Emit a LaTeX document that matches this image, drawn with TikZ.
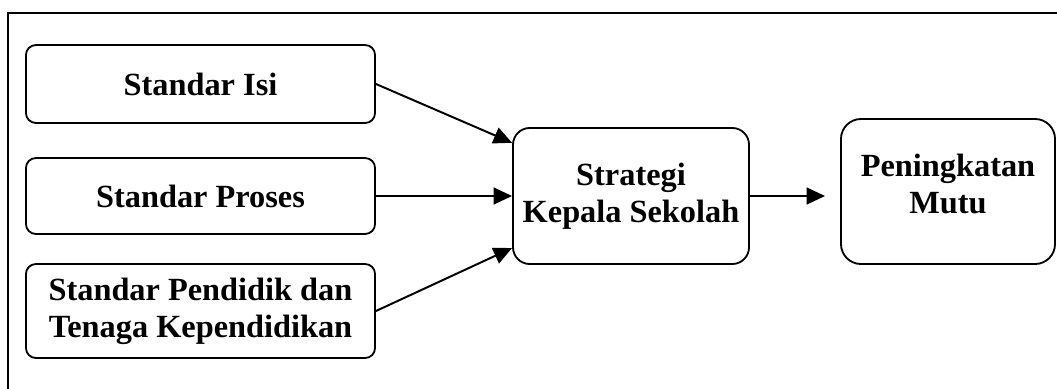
\documentclass[tikz,border=0pt]{standalone}
\usepackage{fontspec}
\setmainfont{Liberation Serif}
\usetikzlibrary{arrows.meta}
\colorlet{penColor}{black}
\tikzset{>={Triangle[length=0.46cm,width=0.42cm]},
  stdbox/.style={draw=penColor,line width=1.3pt,rounded corners=0.25cm,
    align=center,inner sep=0pt,
    font=\fontsize{23}{26.2}\selectfont\bfseries},
  link/.style={draw=penColor,line width=1.4pt,->}}

\begin{document}
\begin{tikzpicture}[x=0.025cm,y=-0.025cm,line cap=round]

  \useasboundingbox (0,0) rectangle (1057,388);
  % outer frame
  \draw [penColor,line width=1.3pt] (1070,400) -- (8,400) -- (8,13) -- (1070,13);

  % the three standards
  \node [stdbox,minimum width=8.725cm,minimum height=1.95cm] (isi) at (200.5,84) {Standar Isi};
  \node [stdbox,minimum width=8.725cm,minimum height=1.9cm] (proses) at (200.5,196) {Standar Proses};
  \node [stdbox,minimum width=8.725cm,minimum height=2.35cm] (pendidik) at (200.5,311) {Standar Pendidik dan\\Tenaga Kependidikan};

  % strategy and result
  \node [stdbox,rounded corners=0.42cm,minimum width=5.9cm,minimum height=3.4cm] (strategi) at (631,196) {Strategi\\Kepala Sekolah};
  \node [stdbox,rounded corners=0.5cm,minimum width=5.35cm,minimum height=3.625cm] (mutu) at (948,191.5) {};
  \node [font=\fontsize{23}{26.2}\selectfont\bfseries,align=center] (mututxt) at (948,184) {Peningkatan\\Mutu};

  \coordinate (inA) at ([yshift=1.33cm]strategi.west);
  \coordinate (inC) at ([yshift=-1.3cm]strategi.west);

  \draw [link] (isi.east) -- (inA);
  \draw [link] (proses.east) -- (strategi.west);
  \draw [link] (pendidik.east) -- (inC);
  \draw [link,shorten >=0.375cm] (strategi.east) -- (strategi.east -| mutu.west);

\end{tikzpicture}
\end{document}
